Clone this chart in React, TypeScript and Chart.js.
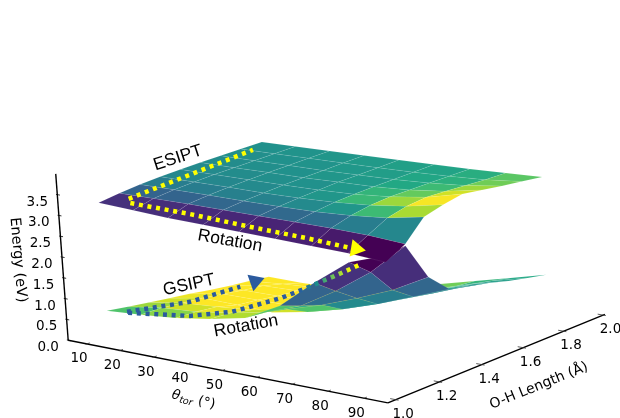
import React, { useEffect, useRef } from "react";
import { Chart, registerables } from "chart.js";

Chart.register(...registerables);

// ---- grid of the two surfaces
const thetaNodes = [0, 10.5, 21, 31.5, 42, 52.5, 63, 73.5, 84];
const ohNodes = [1.2, 1.294, 1.388, 1.481, 1.575, 1.669, 1.763, 1.856, 1.95];
const excitedOhNodes = [1.2, 1.294, 1.388, 1.481, 1.575, 1.669, 1.765, 1.862, 1.965];

// excited state energy (eV), rows = O-H length, columns = theta
const excitedEnergy = [
  [2.83, 2.79, 2.75, 2.73, 2.71, 2.69, 2.67, 2.65, 2.59],
  [2.90, 2.91, 2.92, 2.92, 2.92, 2.92, 2.92, 2.90, 2.84],
  [2.95, 2.96, 2.97, 2.97, 2.98, 3.0, 3.05, 3.14, 3.31],
  [2.98, 2.99, 3.0, 3.0, 3.02, 3.06, 3.13, 3.25, 3.43],
  [3.0, 3.01, 3.02, 3.03, 3.05, 3.09, 3.17, 3.3, 3.52],
  [3.01, 3.02, 3.04, 3.05, 3.08, 3.11, 3.17, 3.28, 3.45],
  [3.02, 3.03, 3.05, 3.06, 3.09, 3.12, 3.17, 3.25, 3.38],
  [3.025, 3.04, 3.06, 3.08, 3.1, 3.13, 3.17, 3.22, 3.32],
  [3.03, 3.05, 3.07, 3.09, 3.12, 3.14, 3.17, 3.21, 3.25],
];
// ground state energy (eV)
const groundEnergy = [
  [0.19, 0.25, 0.33, 0.47, 0.65, 1.1, 1.8, 2.44, 2.74],
  [0.11, 0.24, 0.3, 0.43, 0.61, 0.92, 1.43, 2.03, 2.8],
  [0.03, 0.18, 0.24, 0.32, 0.5, 0.76, 1.08, 1.43, 1.89],
  [-0.04, 0.12, 0.11, 0.09, 0.25, 0.48, 0.76, 1.09, 1.43],
  [-0.11, 0.04, 0.05, 0.06, 0.17, 0.4, 0.68, 1.0, 1.33],
  [-0.19, -0.04, -0.03, 0, 0.14, 0.34, 0.62, 0.92, 1.22],
  [-0.26, -0.11, -0.08, -0.05, 0.08, 0.28, 0.56, 0.86, 1.09],
  [-0.32, -0.24, -0.18, -0.13, 0, 0.23, 0.48, 0.76, 0.99],
  [-0.39, -0.39, -0.36, -0.26, -0.03, 0.2, 0.43, 0.66, 0.89],
];
// facet colour value (0..1 on viridis) per cell
const excitedShade = [
  [0.14, 0.13, 0.12, 0.11, 0.1, 0.09, 0.07, 0],
  [0.32, 0.32, 0.33, 0.34, 0.34, 0.36, 0.42, 0.46],
  [0.42, 0.42, 0.43, 0.44, 0.47, 0.52, 0.68, 0.87],
  [0.46, 0.46, 0.47, 0.49, 0.52, 0.67, 0.85, 0.99],
  [0.47, 0.48, 0.49, 0.5, 0.53, 0.65, 0.76, 0.93],
  [0.48, 0.49, 0.5, 0.52, 0.54, 0.6, 0.68, 0.85],
  [0.49, 0.5, 0.51, 0.53, 0.55, 0.59, 0.63, 0.78],
  [0.5, 0.51, 0.52, 0.54, 0.56, 0.58, 0.62, 0.74],
];
const groundShade = [
  [0.72, 0.82, 0.9, 0.88, 0.72, 0.32, 0.14, 0],
  [0.85, 0.93, 0.97, 0.9, 0.62, 0.36, 0.32, 0.13],
  [0.93, 1, 1, 0.93, 0.72, 0.47, 0.42, 0.33],
  [0.97, 1, 1, 1, 0.8, 0.58, 0.5, 0.44],
  [1, 1, 1, 1, 0.9, 0.66, 0.55, 0.5],
  [1, 1, 1, 1, 0.95, 0.72, 0.6, 0.52],
  [1, 1, 1, 1, 0.95, 0.75, 0.62, 0.55],
  [1, 1, 1, 1, 0.95, 0.78, 0.65, 0.6],
];

// ---- pathways
const esiptTheta = [8, 8];
const esiptOH = [1.22, 1.8];
const esiptE = [3.0, 3.21];
const esRotTheta = [6.3, 24.3, 42.3, 58.5, 70.2, 74.7];
const esRotOH = [1.25, 1.25, 1.25, 1.25, 1.25, 1.25];
const esRotE = [2.82, 2.8, 2.74, 2.7, 2.65, 2.65];
const gsiptTheta = [7.2, 7.2, 7.2, 7.2];
const gsiptOH = [1.187, 1.47, 1.705, 1.81];
const gsiptE = [0.3, 0, -0.07, -0.07];
const gsRotTheta = [5.2, 24, 36.7, 44.1, 51.8, 57.7, 67.7, 74.9];
const gsRotOH = [1.22, 1.22, 1.22, 1.22, 1.22, 1.22, 1.22, 1.22];
const gsRotE = [0.18, 0.39, 0.68, 0.95, 1.24, 1.51, 1.99, 2.35];

// ---- axes
const thetaTicks = [10, 20, 30, 40, 50, 60, 70, 80, 90];
const ohTicks = [1.0, 1.2, 1.4, 1.6, 1.8, 2.0];
const energyTicks = [0, 0.5, 1, 1.5, 2, 2.5, 3, 3.5];
const axisTheta = [4.3, 96.5];
const axisOH = [0.965, 2.01];
const axisEnergy = [0, 4];

const viridis = ["#440154", "#482475", "#414487", "#355f8d", "#2a788e", "#21918c", "#22a884", "#44bf70", "#7ad151", "#bddf26", "#fde725"];

function shade(t: number) {
  const p = Math.max(0, Math.min(0.9999, t)) * 10;
  const k = Math.floor(p);
  const f = p - k;
  const hex = (s: string, o: number) => parseInt(s.slice(o, o + 2), 16);
  const mix = (o: number) => Math.round(hex(viridis[k], o) * (1 - f) + hex(viridis[k + 1], o) * f);
  return `rgb(${mix(1)},${mix(3)},${mix(5)})`;
}

// Perspective camera of the 3D box
function project(theta: number, oh: number, e: number) {
  const u = theta / 90;
  const v = oh - 1;
  const d = 1 - 0.05 * u + 0.06 * v;
  return {
    x: (62.1 + 291.3 * u + 232.4 * v - 3.1 * e) / d,
    y: (334.6 + 40.7 * u - 61.15 * v - 41.4 * e) / d,
  };
}

function pathPoints(t: number[], o: number[], e: number[]) {
  return t.map((th, i) => project(th, o[i], e[i]));
}

function surfaceCells(oh: number[], energy: number[][], tone: number[][]) {
  const cells: any[] = [];
  for (let j = 0; j < oh.length - 1; j++) {
    for (let i = 0; i < thetaNodes.length - 1; i++) {
      const corners = [
        project(thetaNodes[i], oh[j], energy[j][i]),
        project(thetaNodes[i + 1], oh[j], energy[j][i + 1]),
        project(thetaNodes[i + 1], oh[j + 1], energy[j + 1][i + 1]),
        project(thetaNodes[i], oh[j + 1], energy[j + 1][i]),
      ];
      corners.push({ ...corners[0] });
      const depth = project((thetaNodes[i] + thetaNodes[i + 1]) / 2, (oh[j] + oh[j + 1]) / 2, 0).y;
      cells.push({ corners, depth, color: shade(tone[j][i]) });
    }
  }
  return cells.sort((a, b) => a.depth - b.depth);
}

function line(data: any[], color: any, width: number, extra: any = {}) {
  return { type: "scatter", data, showLine: true, fill: false, borderColor: color, borderWidth: width, pointRadius: 0, tension: 0, ...extra };
}

function arrowHead(pts: { x: number; y: number }[], color: string, radius: number) {
  const a = pts[pts.length - 2];
  const b = pts[pts.length - 1];
  const ang = Math.atan2(b.y - a.y, b.x - a.x);
  const centre = { x: b.x - Math.cos(ang) * radius * 0.75, y: b.y - Math.sin(ang) * radius * 0.75 };
  return {
    type: "scatter",
    data: [centre],
    showLine: false,
    pointStyle: "triangle",
    pointRadius: radius,
    pointRotation: (ang * 180) / Math.PI + 90,
    pointBackgroundColor: color,
    pointBorderColor: color,
    pointBorderWidth: 0,
  };
}

const textPlugin = {
  id: "labels3d",
  afterDraw(chart: any) {
    const ctx = chart.ctx;
    const label = (t: string, x: number, y: number, font: string, rot = 0) => {
      ctx.save();
      ctx.translate(x, y);
      ctx.rotate((rot * Math.PI) / 180);
      ctx.font = font;
      ctx.fillStyle = "#000";
      ctx.textAlign = "center";
      ctx.textBaseline = "middle";
      ctx.fillText(t, 0, 0);
      ctx.restore();
    };
    const tickFont = "13.5px 'DejaVu Sans'";
    thetaTicks.forEach((t) => {
      const p = project(t, axisOH[0], 0);
      label(String(t), p.x - 8, p.y + 15, tickFont);
    });
    ohTicks.forEach((o) => {
      const p = project(axisTheta[1], o, 0);
      label(o.toFixed(1), p.x + 7.5, p.y + 14.5, tickFont);
    });
    energyTicks.forEach((e) => {
      const p = project(axisTheta[0], axisOH[0], e);
      label(e.toFixed(1), p.x - 20, p.y + 7.5, tickFont);
    });
    label("Energy (eV)", 18, 260, "14.5px 'DejaVu Sans'", 85);
    label("O-H Length (Å)", 539, 386, "14px 'DejaVu Sans'", -22);

    ctx.save();
    ctx.translate(172, 394);
    ctx.rotate((14 * Math.PI) / 180);
    ctx.fillStyle = "#000";
    ctx.textBaseline = "alphabetic";
    ctx.textAlign = "left";
    ctx.font = "italic 13.5px 'DejaVu Sans'";
    ctx.fillText("θ", 0, 4);
    ctx.font = "italic 9.5px 'DejaVu Sans'";
    ctx.fillText("tor", 8.5, 6.5);
    ctx.font = "13.5px 'DejaVu Sans'";
    ctx.fillText("(°)", 27, 4);
    ctx.restore();

    const note = "17.5px 'Liberation Sans'";
    label("ESIPT", 178, 158, note, -18);
    label("Rotation", 230, 241, note, 10);
    label("GSIPT", 189, 285, note, -12);
    label("Rotation", 246, 326, note, -10);
  },
};

export default function App() {
  const ref = useRef<HTMLCanvasElement>(null);
  useEffect(() => {
    const canvas = ref.current!;
    const ctx = canvas.getContext("2d")!;
    const painted: any[] = [];

    // axes
    const origin = { t: axisTheta[0], o: axisOH[0] };
    painted.push(line([project(origin.t, origin.o, axisEnergy[0]), project(origin.t, origin.o, axisEnergy[1])], "#000", 1.4));
    painted.push(line([project(axisTheta[0], origin.o, 0), project(axisTheta[1], origin.o, 0)], "#000", 1.4));
    painted.push(line([project(axisTheta[1], axisOH[0], 0), project(axisTheta[1], axisOH[1], 0)], "#000", 1.4));
    thetaTicks.forEach((t) => painted.push(line([project(t, origin.o - 0.006, 0), project(t, origin.o + 0.012, 0)], "#333", 0.8)));
    ohTicks.forEach((o) => painted.push(line([project(axisTheta[1] - 1.5, o, 0), project(axisTheta[1] + 0.8, o, 0)], "#333", 0.8)));
    energyTicks.forEach((e) => painted.push(line([project(origin.t - 0.4, origin.o, e), project(origin.t + 0.8, origin.o, e)], "#000", 0.8)));

    // surfaces: ground first, then excited, each back to front
    [surfaceCells(ohNodes, groundEnergy, groundShade), surfaceCells(excitedOhNodes, excitedEnergy, excitedShade)].forEach((cells) => {
      cells.forEach((c: any) =>
        painted.push(line(c.corners, "rgba(255,255,255,0.13)", 0.6, { fill: "shape", backgroundColor: c.color }))
      );
    });

    // pathways
    const dash = { borderDash: [4, 4.7], borderCapStyle: "butt" };
    const esipt = pathPoints(esiptTheta, esiptOH, esiptE);
    const esRot = pathPoints(esRotTheta, esRotOH, esRotE);
    const gsipt = pathPoints(gsiptTheta, gsiptOH, gsiptE);
    const gsRot = pathPoints(gsRotTheta, gsRotOH, gsRotE);
    const grad = ctx.createLinearGradient(gsRot[0].x, 0, gsRot[gsRot.length - 1].x, 0);
    grad.addColorStop(0, "#2b5a9e");
    grad.addColorStop(0.74, "#2b5a9e");
    grad.addColorStop(0.82, "#1a8f8c");
    grad.addColorStop(0.9, "#7ecb4f");
    grad.addColorStop(0.97, "#ffff00");
    grad.addColorStop(1, "#ffff00");
    painted.push(line(esipt, "#ffff00", 4.5, dash));
    painted.push(line(esRot.slice(0, -1), "#ffff00", 4.5, dash));
    painted.push(arrowHead(esRot, "#ffff00", 10));
    painted.push(line(gsipt.slice(0, -1), "#2b5a9e", 4.5, dash));
    painted.push(arrowHead(gsipt, "#2b5a9e", 10));
    painted.push(line(gsRot, grad, 4.5, dash));

    const datasets = painted.map((d, idx) => ({ ...d, order: painted.length - idx }));

    const chart = new Chart(canvas, {
      type: "scatter",
      data: { datasets },
      options: {
        animation: false,
        responsive: false,
        layout: { padding: 0, autoPadding: false },
        plugins: { legend: { display: false }, tooltip: { enabled: false } },
        scales: {
          x: { type: "linear", display: false, min: 0, max: 620 },
          y: { type: "linear", display: false, min: 0, max: 418, reverse: true },
        },
      },
      plugins: [textPlugin],
    } as any);
    return () => chart.destroy();
  }, []);
  return (
    <div style={{ position: "fixed", left: 0, top: 0, width: 620, height: 418, background: "#fff" }}>
      <canvas ref={ref} width={620} height={418} style={{ display: "block" }} />
    </div>
  );
}
